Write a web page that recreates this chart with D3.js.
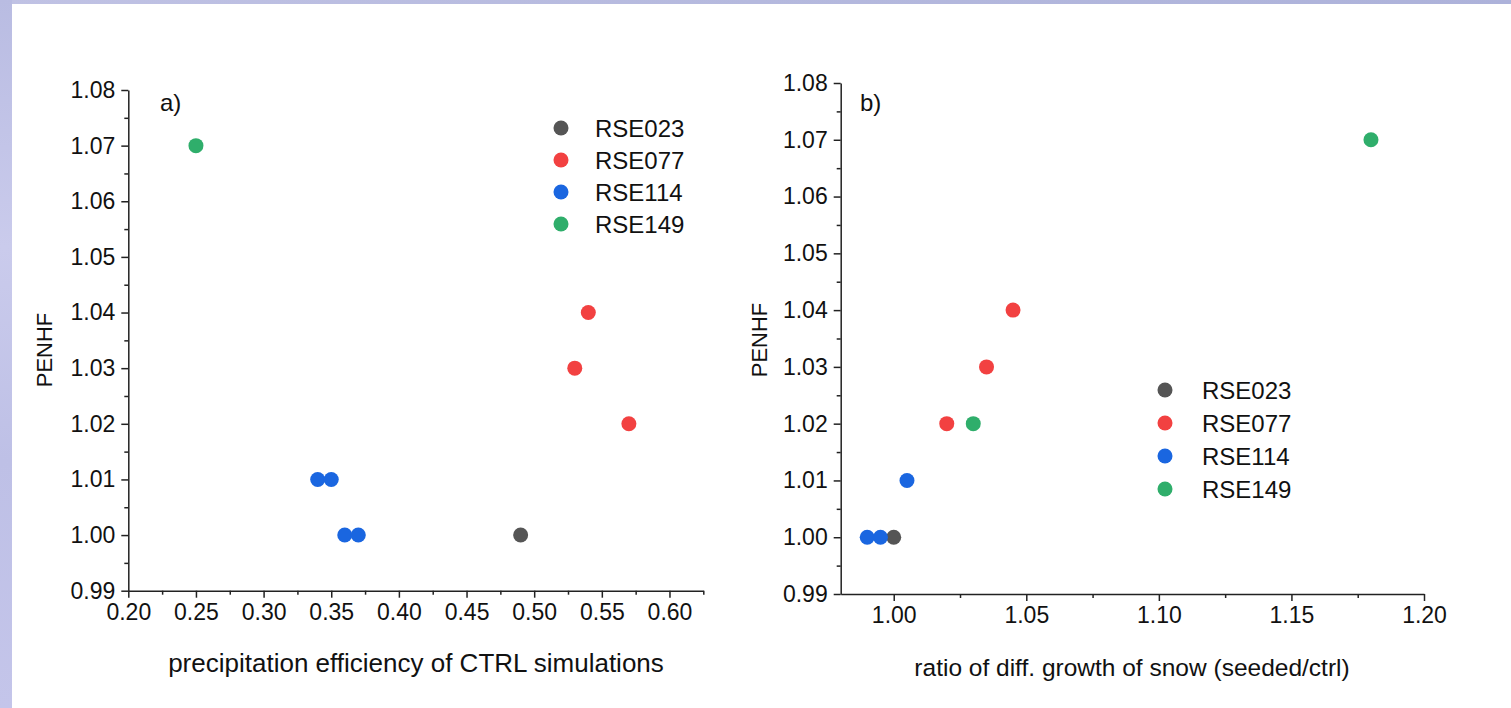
<!DOCTYPE html>
<html>
<head>
<meta charset="utf-8">
<script src="https://cdn.jsdelivr.net/npm/d3@7"></script>
<style>
  html, body { margin: 0; padding: 0; background: #fff; }
  svg { display: block; }
  text { font-family: "Liberation Sans", Arial, sans-serif; fill: #111; }
</style>
</head>
<body>
<svg id="chart" width="1511" height="708"></svg>
<script>
// ---- data ----
const series = ["RSE023", "RSE077", "RSE114", "RSE149"];
const seriesColors = ["#555555", "#f24141", "#1a66e0", "#2fae6b"];

// panel a: precipitation efficiency of CTRL simulations vs PENHF
const aSeries = ["RSE023", "RSE077", "RSE077", "RSE077", "RSE114", "RSE114", "RSE114", "RSE114", "RSE149"];
const aX      = [0.49, 0.54, 0.53, 0.57, 0.34, 0.35, 0.36, 0.37, 0.25];
const aY      = [1.00, 1.04, 1.03, 1.02, 1.01, 1.01, 1.00, 1.00, 1.07];

// panel b: ratio of diff. growth of snow vs PENHF
const bSeries = ["RSE023", "RSE077", "RSE077", "RSE077", "RSE114", "RSE114", "RSE114", "RSE149", "RSE149"];
const bX      = [1.00, 1.045, 1.035, 1.02, 0.99, 0.995, 1.005, 1.03, 1.18];
const bY      = [1.00, 1.04, 1.03, 1.02, 1.00, 1.00, 1.01, 1.02, 1.07];

const yTicks = [0.99, 1.00, 1.01, 1.02, 1.03, 1.04, 1.05, 1.06, 1.07, 1.08];
const yMinor = [0.995, 1.005, 1.015, 1.025, 1.035, 1.045, 1.055, 1.065, 1.075];
const aXTicks = [0.20, 0.25, 0.30, 0.35, 0.40, 0.45, 0.50, 0.55, 0.60];
const aXMinor = [0.225, 0.275, 0.325, 0.375, 0.425, 0.475, 0.525, 0.575, 0.625];
const bXTicks = [1.00, 1.05, 1.10, 1.15, 1.20];
const bXMinor = [1.025, 1.075, 1.125, 1.175];

const svg = d3.select("#chart");

// background frame (slide-like gradient strips)
const defs = svg.append("defs");
const gl = defs.append("linearGradient").attr("id", "gl").attr("x1", 0).attr("y1", 0).attr("x2", 0).attr("y2", 1);
gl.append("stop").attr("offset", "0%").attr("stop-color", "#b9bce2");
gl.append("stop").attr("offset", "35%").attr("stop-color", "#cacbec");
gl.append("stop").attr("offset", "65%").attr("stop-color", "#bec0e6");
gl.append("stop").attr("offset", "100%").attr("stop-color", "#c4c5ea");
const gt = defs.append("linearGradient").attr("id", "gt").attr("x1", 0).attr("y1", 0).attr("x2", 1).attr("y2", 0);
gt.append("stop").attr("offset", "0%").attr("stop-color", "#c0c2e4");
gt.append("stop").attr("offset", "50%").attr("stop-color", "#b5b9de");
gt.append("stop").attr("offset", "100%").attr("stop-color", "#adb2da");
svg.append("rect").attr("x", 0).attr("y", 0).attr("width", 1511).attr("height", 4).attr("fill", "url(#gt)");
svg.append("rect").attr("x", 0).attr("y", 0).attr("width", 12).attr("height", 708).attr("fill", "url(#gl)");

const color = d3.scaleOrdinal().domain(series).range(seriesColors);

function panel(cfg) {
  const g = svg.append("g");
  const x = d3.scaleLinear().domain(cfg.xDomain).range(cfg.xRange);
  const y = d3.scaleLinear().domain([0.99, 1.08]).range(cfg.yRange);
  const x0 = cfg.xRange[0], y0 = cfg.yRange[0];

  // minor ticks
  g.append("g").attr("transform", `translate(0,${y0})`)
    .call(d3.axisBottom(x).tickValues(cfg.xMinor).tickSize(4).tickFormat(""))
    .call(s => s.select(".domain").remove());
  g.append("g").attr("transform", `translate(${x0},0)`)
    .call(d3.axisLeft(y).tickValues(yMinor).tickSize(4).tickFormat(""))
    .call(s => s.select(".domain").remove());

  // major axes
  const xa = g.append("g").attr("transform", `translate(0,${y0})`)
    .call(d3.axisBottom(x).tickValues(cfg.xTicks).tickSize(7).tickSizeOuter(0).tickPadding(6).tickFormat(d3.format(".2f")));
  const ya = g.append("g").attr("transform", `translate(${x0},0)`)
    .call(d3.axisLeft(y).tickValues(yTicks).tickSize(7).tickSizeOuter(0).tickPadding(6).tickFormat(d3.format(".2f")));
  [xa, ya].forEach(a => {
    a.selectAll("text").attr("font-size", 23).attr("font-family", "Liberation Sans, Arial, sans-serif").attr("fill", "#111");
  });
  g.selectAll("line, path.domain").attr("stroke", "#222").attr("stroke-width", 1.5);

  // axis titles
  g.append("text").attr("x", cfg.xTitlePos[0]).attr("y", cfg.xTitlePos[1])
    .attr("text-anchor", "middle").attr("font-size", cfg.xTitleSize).text(cfg.xTitle);
  g.append("text").attr("transform", `translate(${cfg.yTitlePos[0]},${cfg.yTitlePos[1]}) rotate(-90)`)
    .attr("text-anchor", "middle").attr("font-size", 22).text("PENHF");
  g.append("text").attr("x", cfg.labelPos[0]).attr("y", cfg.labelPos[1])
    .attr("font-size", 24).text(cfg.label);

  // points
  g.append("g").selectAll("circle").data(cfg.xs.map((d, i) => ({x: d, y: cfg.ys[i], s: cfg.ss[i]})))
    .join("circle")
    .attr("cx", d => x(d.x)).attr("cy", d => y(d.y)).attr("r", 7.5)
    .attr("fill", d => color(d.s));

  // legend
  const lg = g.append("g").attr("transform", `translate(${cfg.legendPos[0]},${cfg.legendPos[1]})`);
  const rows = lg.selectAll("g").data(series).join("g")
    .attr("transform", (d, i) => `translate(0,${i * cfg.legendStep})`);
  rows.append("circle").attr("r", 7.5).attr("fill", d => color(d));
  rows.append("text").attr("x", cfg.legendTextDx).attr("y", 0).attr("dy", "0.36em")
    .attr("font-size", 24).text(d => d);
}

panel({
  xDomain: [0.2, 0.625], xRange: [128.3, 703.3], yRange: [590.7, 90],
  xTicks: aXTicks, xMinor: aXMinor,
  xs: aX, ys: aY, ss: aSeries,
  xTitle: "precipitation efficiency of CTRL simulations", xTitlePos: [416, 672], xTitleSize: 26,
  yTitlePos: [52, 350], label: "a)", labelPos: [160, 111],
  legendPos: [561, 128], legendStep: 32, legendTextDx: 34
});

panel({
  xDomain: [0.98, 1.20], xRange: [840.7, 1424], yRange: [594, 83],
  xTicks: bXTicks, xMinor: bXMinor,
  xs: bX, ys: bY, ss: bSeries,
  xTitle: "ratio of diff. growth of snow (seeded/ctrl)", xTitlePos: [1132, 676], xTitleSize: 24.5,
  yTitlePos: [767, 340], label: "b)", labelPos: [860, 111],
  legendPos: [1165, 390], legendStep: 33, legendTextDx: 37
});
</script>
</body>
</html>
